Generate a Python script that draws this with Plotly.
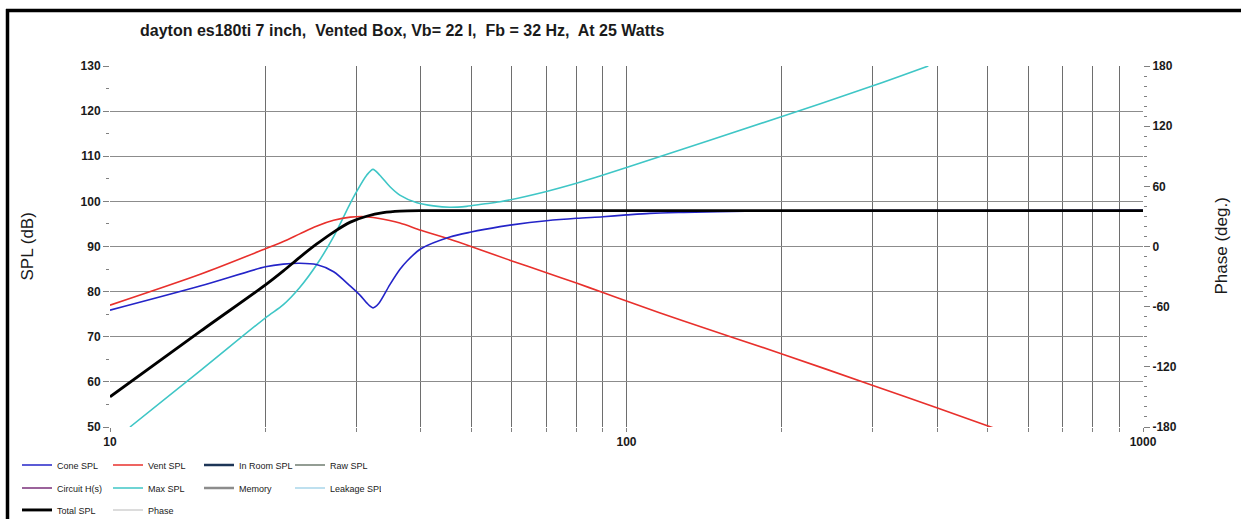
import plotly.graph_objects as go

# ---------------- data ----------------
title_text = "dayton es180ti 7 inch,  Vented Box, Vb= 22 l,  Fb = 32 Hz,  At 25 Watts"

cone_f = [10, 15, 20, 21.66, 23.3, 25.1, 27.1, 29.2, 30.6, 31.4, 32.3, 33.1, 34.8, 36.4,
          37.6, 40, 45.5, 50, 56.9, 60, 70, 80, 90, 100, 111, 129, 170, 250, 1000]
cone_spl = [75.9, 81.3, 85.5, 86.1, 86.3, 86.0, 84.4, 81.2, 79.0, 77.5, 76.4, 77.3, 81.5, 84.9,
            86.8, 89.5, 92.1, 93.2, 94.4, 94.8, 95.7, 96.25, 96.6, 97.0, 97.35, 97.55, 97.8, 97.95, 98.0]

vent_f = [10, 15, 20, 21.66, 23.3, 25.1, 27.1, 29.2, 31.4, 32.8, 36.4, 40, 45.5, 50, 60,
          70, 80, 90, 100, 129, 200, 300, 400, 528]
vent_spl = [77.0, 83.9, 89.5, 91.1, 92.8, 94.5, 95.8, 96.5, 96.6, 96.3, 95.2, 93.6, 91.6, 90.0, 86.8,
            84.2, 81.9, 79.8, 77.9, 73.5, 66.2, 59.2, 54.2, 49.3]

max_f = [10.93, 15, 20, 21.66, 23.3, 25.14, 27.1, 29.2, 30, 31.4, 32.3, 33.3, 34.8, 36.4,
         39.3, 42.3, 45.5, 49, 52.8, 56.9, 70, 80, 88.9, 100, 200, 300, 384]
max_spl = [50.0, 62.6, 74.2, 77.1, 80.9, 86.0, 92.2, 99.6, 102.1, 105.8, 107.1, 105.8, 103.3, 101.4,
           99.7, 99.0, 98.7, 98.9, 99.4, 99.9, 102.2, 104.0, 105.6, 107.5, 118.8, 125.6, 130.0]

total_f = [10, 15, 20, 21.66, 23.3, 25.1, 27.1, 29.2, 31.4, 33.8, 36.4, 40, 50, 100, 1000]
total_spl = [56.7, 71.3, 81.5, 84.6, 87.6, 90.5, 93.2, 95.4, 96.7, 97.5, 97.85, 97.95, 97.95, 97.95, 97.95]

x_tick_vals = [10, 20, 30, 40, 50, 60, 70, 80, 90, 100, 200, 300, 400, 500, 600, 700, 800, 900, 1000]
x_tick_text = ["10", "", "", "", "", "", "", "", "", "100", "", "", "", "", "", "", "", "", "1000"]
y2_tick_vals = [-180, -120, -60, 0, 60, 120, 180]
y2_tick_text = ["-180", "-120", "-60", "0", "60", "120", "180"]

# legend rows: (name, colour, width)
legend_rows = [
    [("Cone SPL", "#2424c8", 1.6), ("Vent SPL", "#e8302c", 1.6), ("In Room SPL", "#1d3557", 2.5), ("Raw SPL", "#6f7d70", 1.6)],
    [("Circuit H(s)", "#7a2f7a", 1.6), ("Max SPL", "#3fc6c6", 1.6), ("Memory", "#8c8c8c", 2.5), ("Leakage SPL", "#a9d6ea", 1.6)],
    [("Total SPL", "#000000", 2.8), ("Phase", "#d4d4d4", 1.6)],
]

series = {
    "Cone SPL": (cone_f, cone_spl),
    "Vent SPL": (vent_f, vent_spl),
    "Max SPL": (max_f, max_spl),
    "Total SPL": (total_f, total_spl),
}
z_order = {"Max SPL": 1, "Vent SPL": 2, "Cone SPL": 3, "Total SPL": 4}

W, H = 1241, 519
PL, PR, PT, PB = 110, 1143, 66, 427

fig = go.Figure()

legend_ids = ["legend", "legend2", "legend3"]
for r, row in enumerate(legend_rows):
    for name, color, width in row:
        if name in series:
            fx, fy = series[name]
        else:
            fx, fy = [None], [None]
        fig.add_trace(go.Scatter(
            x=fx, y=fy, mode="lines", name=name,
            line=dict(color=color, width=width, shape="spline", smoothing=0.8),
            legend=legend_ids[r], showlegend=True, hoverinfo="skip",
            zorder=z_order.get(name, 0),
        ))

# phase axis dummy trace (keeps y2 visible)
fig.add_trace(go.Scatter(x=[None], y=[None], yaxis="y2", showlegend=False, hoverinfo="skip"))

grid_col = "#808080"
tick_font = dict(family="Liberation Sans, Arial", size=12, color="#1a1a1a", weight="bold")

fig.update_layout(
    width=W, height=H,
    margin=dict(l=PL, r=W - PR, t=PT, b=H - PB, autoexpand=False),
    paper_bgcolor="white", plot_bgcolor="white",
    font=dict(family="Liberation Sans, Arial", size=12, color="#1a1a1a"),
    title=dict(text=title_text, x=140 / W, xanchor="left", xref="container",
               y=1 - 30 / H, yanchor="middle", yref="container",
               font=dict(size=16, color="#1a1a1a", family="Liberation Sans, Arial", weight="bold")),
    xaxis=dict(type="log", range=[1, 3], tickvals=x_tick_vals, ticktext=x_tick_text,
               showgrid=True, gridcolor="#6e6e6e", gridwidth=1,
               showline=True, linecolor=grid_col, linewidth=1, mirror=True,
               ticks="outside", ticklen=4, tickcolor=grid_col, tickfont=tick_font,
               zeroline=False),
    yaxis=dict(range=[50, 130], dtick=10, tick0=50, showgrid=True, gridcolor="#8c8c8c", gridwidth=1,
               showline=True, linecolor=grid_col, linewidth=1,
               ticks="outside", ticklen=6, tickcolor=grid_col, tickfont=tick_font,
               minor=dict(dtick=5, ticks="outside", ticklen=3, tickcolor=grid_col, showgrid=False),
               zeroline=False),
    yaxis2=dict(range=[-180, 180], tickvals=y2_tick_vals, ticktext=y2_tick_text,
                overlaying="y", side="right",
                showgrid=False, showline=True, linecolor=grid_col, linewidth=1,
                ticks="outside", ticklen=6, tickcolor=grid_col, tickfont=tick_font,
                minor=dict(dtick=10, tick0=-180, ticks="outside", ticklen=3, tickcolor=grid_col, showgrid=False),
                zeroline=False),
    annotations=[
        dict(text="SPL (dB)", textangle=-90, xref="paper", yref="paper",
             x=(27 - PL) / (PR - PL), y=0.5, xanchor="center", yanchor="middle",
             showarrow=False, font=dict(size=17, color="#1a1a1a")),
        dict(text="Phase (deg.)", textangle=-90, xref="paper", yref="paper",
             x=(1221 - PL) / (PR - PL), y=0.5, xanchor="center", yanchor="middle",
             showarrow=False, font=dict(size=17, color="#1a1a1a")),
    ],
    shapes=[
        dict(type="line", xref="paper", yref="paper",
             x0=(7.5 - PL) / (PR - PL), x1=(7.5 - PL) / (PR - PL),
             y0=(PB - 9) / (PB - PT), y1=(PB - H - 5) / (PB - PT),
             line=dict(color="black", width=3.5)),
        dict(type="line", xref="paper", yref="paper",
             x0=(6 - PL) / (PR - PL), x1=(W + 5 - PL) / (PR - PL),
             y0=(PB - 10.5) / (PB - PT), y1=(PB - 10.5) / (PB - PT),
             line=dict(color="black", width=3.5)),
    ],
)

leg_common = dict(orientation="h", xref="container", yref="container",
                  xanchor="left", yanchor="middle", bgcolor="rgba(0,0,0,0)",
                  font=dict(size=9, color="#1a1a1a", family="Liberation Sans, Arial"),
                  entrywidth=46, entrywidthmode="pixels", itemwidth=30,
                  tracegroupgap=0)
rows_y = [465, 488, 510]
fig.update_layout(
    legend=dict(**leg_common, x=17 / W, y=1 - rows_y[0] / H),
    legend2=dict(**leg_common, x=17 / W, y=1 - rows_y[1] / H),
    legend3=dict(**leg_common, x=17 / W, y=1 - rows_y[2] / H),
)

fig.write_html("out.html", config={"displayModeBar": False},
               post_script="document.body.style.margin='0';")
